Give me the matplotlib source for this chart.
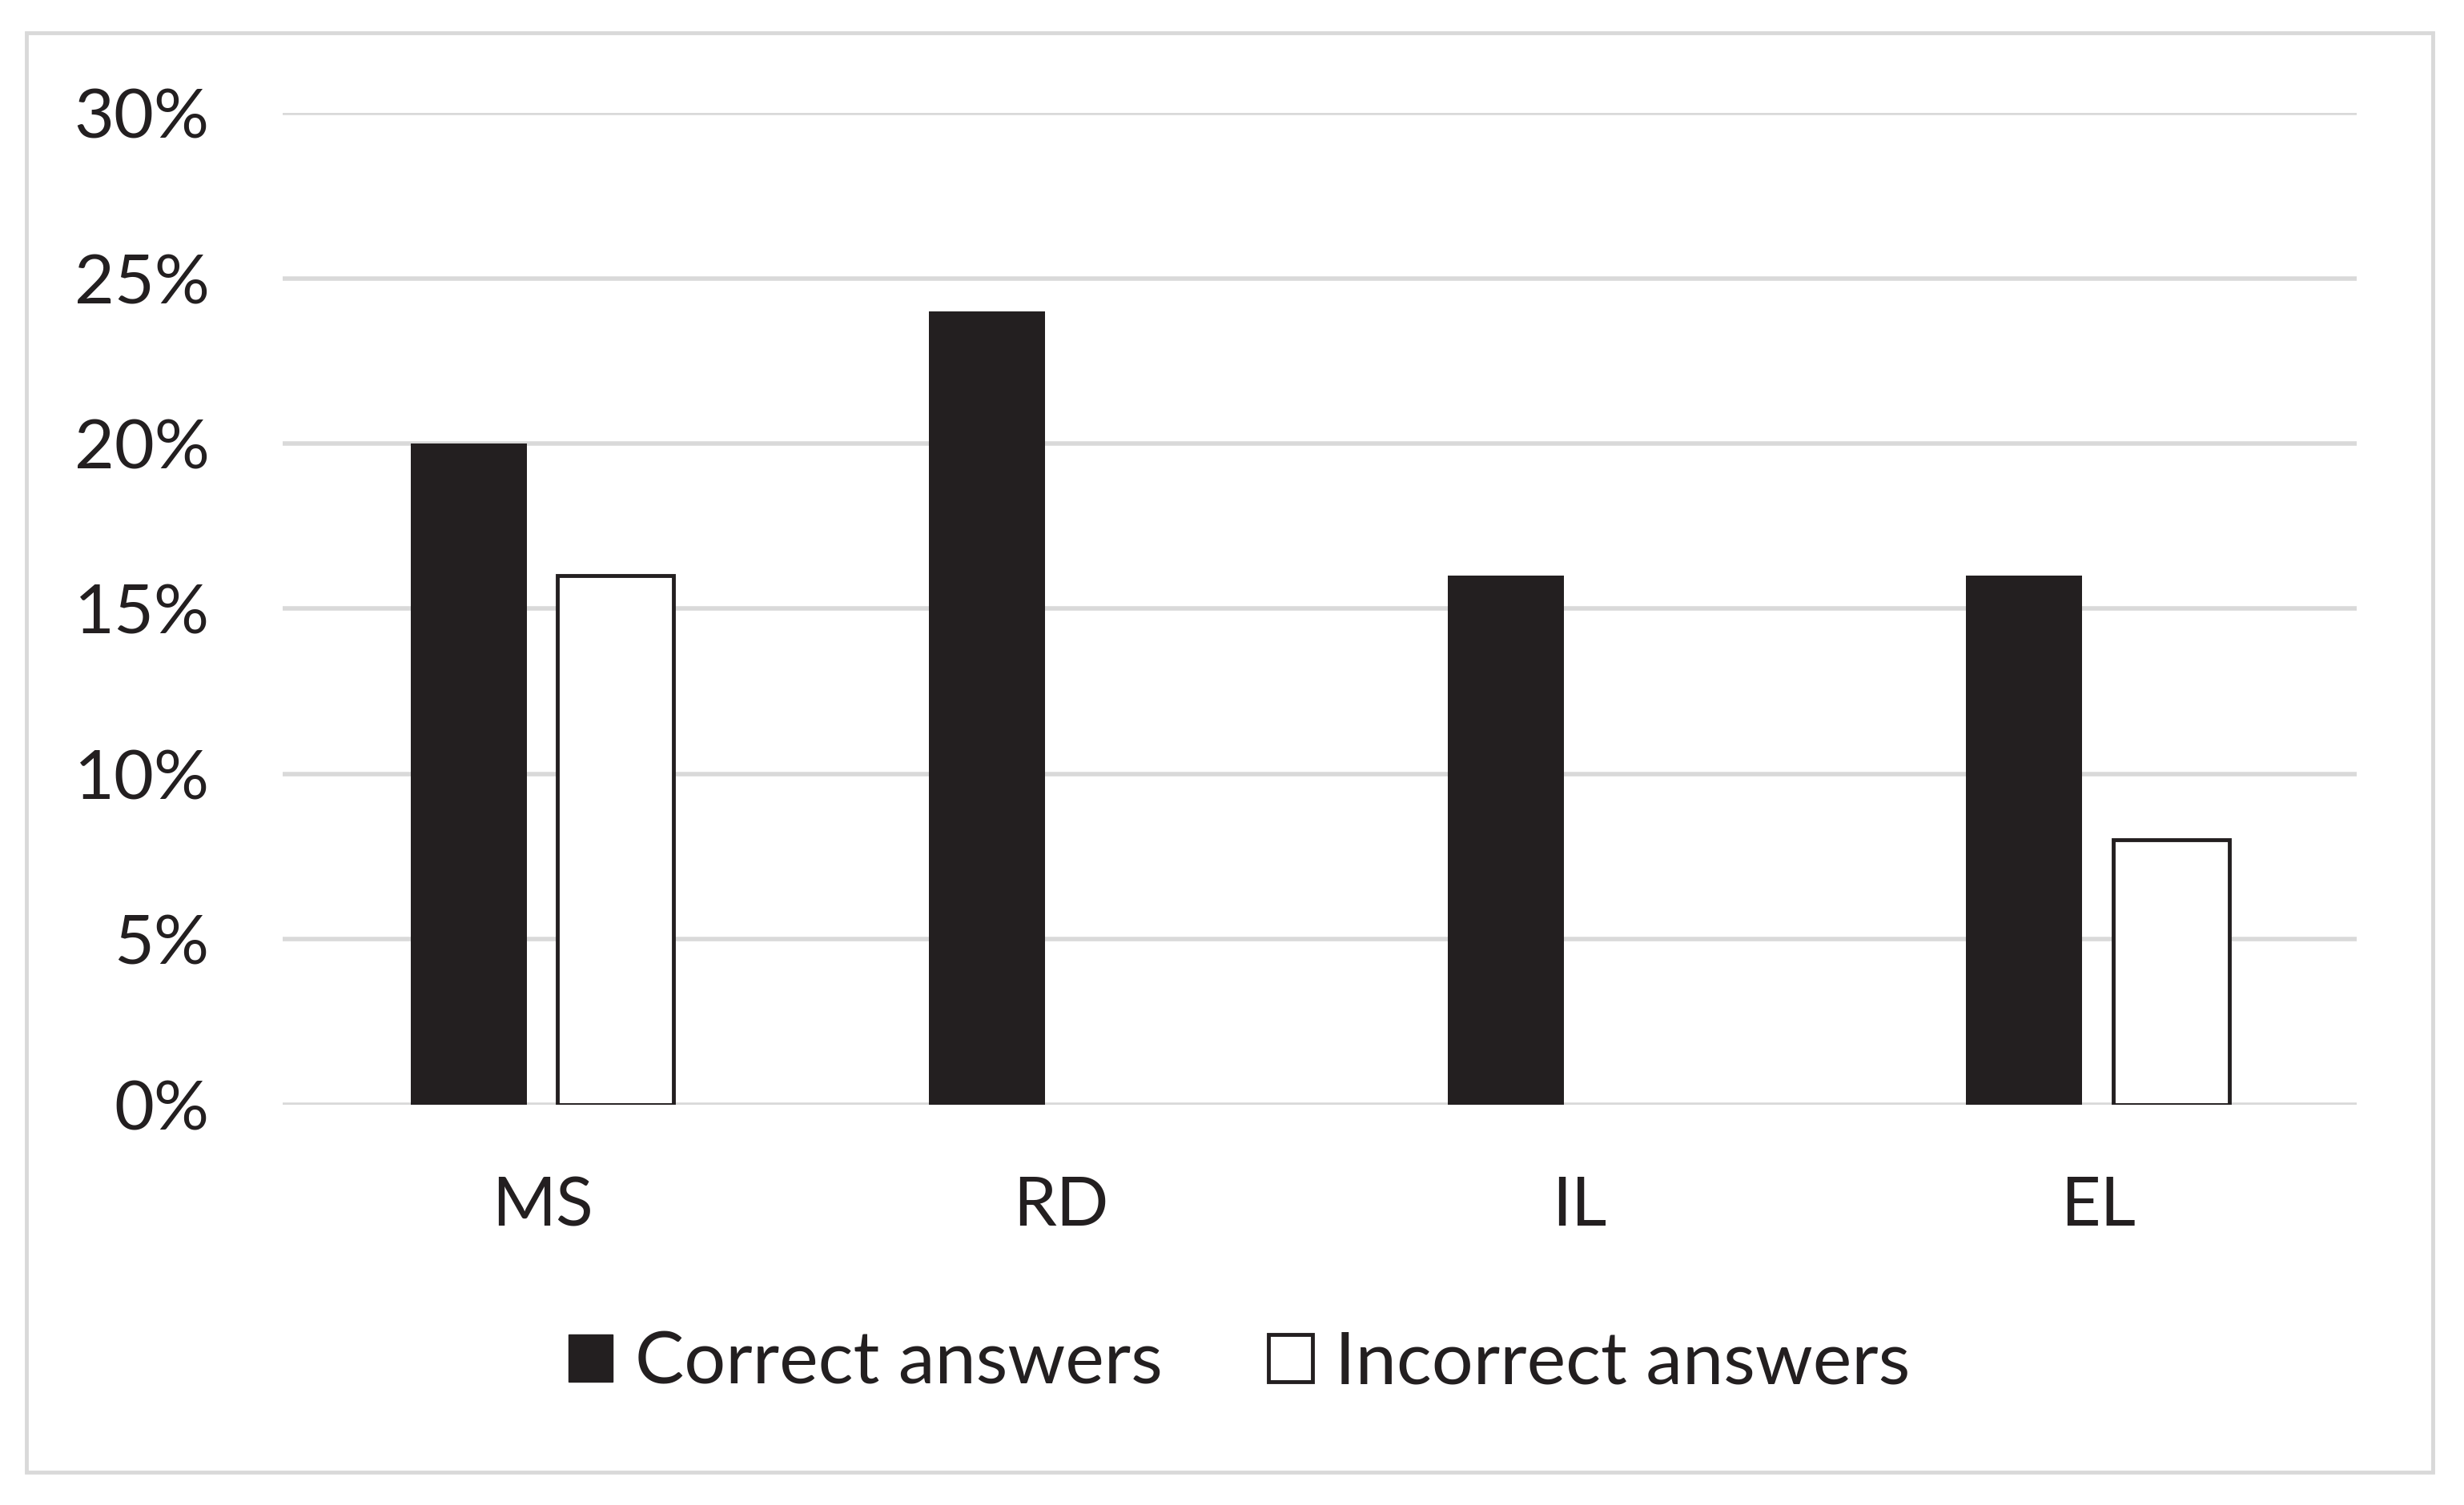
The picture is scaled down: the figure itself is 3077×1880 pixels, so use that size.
import matplotlib
matplotlib.use("Agg")
import matplotlib.pyplot as plt
from matplotlib.patches import Patch, Rectangle
from matplotlib.ticker import PercentFormatter
import numpy as np

categories = ['MS', 'RD', 'IL', 'EL']
correct = [20, 24, 16, 16]
incorrect = [16, 0, 0, 8]
y_ticks = [0, 5, 10, 15, 20, 25, 30]

plt.rcParams['font.family'] = ['Lato', 'DejaVu Sans']
dark = '#231f20'
grid_col = '#d9d9d9'

fig = plt.figure(figsize=(30.77, 18.80), dpi=100)
ax = fig.add_axes([0.1148, 0.2662, 0.8418, 0.6586])

x = np.arange(len(categories))
w = 0.224
ax.bar(x - 0.142, correct, w, color=dark, zorder=3)
# empty bars are not drawn for zero values
inc_x = [xi + 0.142 for xi, v in zip(x, incorrect) if v > 0]
inc_v = [v for v in incorrect if v > 0]
ax.bar(inc_x, inc_v, w, color='white', edgecolor=dark, linewidth=3.5, zorder=3)

ax.set_xlim(-0.5, len(categories) - 0.5)
ax.set_ylim(0, 30)
ax.set_yticks(y_ticks)
ax.yaxis.set_major_formatter(PercentFormatter(decimals=0))
ax.set_xticks(x)
ax.set_xticklabels(categories)
ax.grid(axis='y', color=grid_col, linewidth=4, zorder=0)
ax.set_axisbelow(True)
for s in ax.spines.values():
    s.set_visible(False)
ax.tick_params(axis='y', length=0, pad=66, labelsize=62, labelcolor=dark)
ax.tick_params(axis='x', length=0, pad=64, labelsize=62, labelcolor=dark)

handles = [Patch(facecolor=dark, edgecolor=dark, label='Correct answers'),
           Patch(facecolor='white', edgecolor=dark, linewidth=3.5, label='Incorrect answers')]
fig.legend(handles=handles, loc='center', bbox_to_anchor=(0.503, 0.094), ncol=2,
           frameon=False, fontsize=66, handlelength=0.6, handleheight=0.6,
           handletextpad=0.3, columnspacing=1.45, labelcolor=dark)

# outer chart border
fig.patches.append(Rectangle((17 / 1568, 1 - 937 / 958), (1548 - 17) / 1568, (937 - 21) / 958,
                             transform=fig.transFigure, fill=False,
                             edgecolor=grid_col, linewidth=3.5))

fig.savefig('out.png', dpi=100, facecolor='white')
